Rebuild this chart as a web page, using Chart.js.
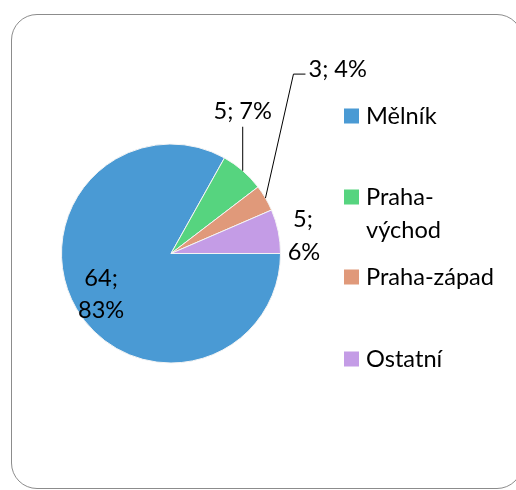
<!DOCTYPE html>
<html>
<head>
<meta charset="utf-8">
<script src="https://cdn.jsdelivr.net/npm/chart.js@4.4.1/dist/chart.umd.min.js"></script>
<style>
  html, body { margin: 0; padding: 0; background: #fff; overflow: hidden; }
  .wrap { position: relative; width: 516px; height: 490px; }
  .frame {
    position: absolute; left: 11px; top: 14px; width: 510px; height: 473px;
    border: 1.5px solid #8c8c8c; border-radius: 26px; pointer-events: none;
  }
</style>
</head>
<body>
<div class="wrap">
  <canvas id="pie" width="516" height="490"></canvas>
  <div class="frame"></div>
</div>
<script>
const labels = ["Mělník", "Praha-východ", "Praha-západ", "Ostatní"];
const legendLines = [["Mělník"], ["Praha-", "východ"], ["Praha-západ"], ["Ostatní"]];
const counts = [64, 5, 3, 5];
const percents = ["83%", "7%", "4%", "6%"];
const sliceColors = ["#4a9ad4", "#56d47f", "#e0997a", "#c49ce6"];

const FONT = "23.6px Lato, 'Open Sans', sans-serif";

// data label text, one entry per slice, split into lines
function labelLines(i) {
  if (i === 0 || i === 3) return [counts[i] + ";", percents[i]];
  return [counts[i] + "; " + percents[i]];
}

const pieLabels = {
  id: "pieLabels",
  afterDatasetsDraw(chart) {
    const ctx = chart.ctx;
    const arcs = chart.getDatasetMeta(0).data;
    ctx.save();
    ctx.font = FONT;
    ctx.fillStyle = "#000";
    ctx.strokeStyle = "#000";
    ctx.lineWidth = 1;
    ctx.textBaseline = "middle";
    arcs.forEach((arc, i) => {
      const { x, y, startAngle, endAngle, outerRadius } = arc.getProps(
        ["x", "y", "startAngle", "endAngle", "outerRadius"], true);
      const mid = (startAngle + endAngle) / 2;
      const ex = x + Math.cos(mid) * outerRadius;
      const ey = y + Math.sin(mid) * outerRadius;
      const lines = labelLines(i);
      if (i === 0) {
        // inside the big slice
        const lx = x + Math.cos(mid) * outerRadius * 0.74;
        const ly = y + Math.sin(mid) * outerRadius * 0.74;
        ctx.textAlign = "center";
        ctx.fillText(lines[0], lx, ly - 16);
        ctx.fillText(lines[1], lx, ly + 16);
      } else if (i === 1) {
        ctx.beginPath();
        ctx.moveTo(ex, ey);
        ctx.lineTo(ex, ey - 44);
        ctx.stroke();
        ctx.textAlign = "center";
        ctx.fillText(lines[0], ex, ey - 59);
      } else if (i === 2) {
        const kx = ex + 28, ky = ey - 124;
        ctx.beginPath();
        ctx.moveTo(ex, ey);
        ctx.lineTo(kx, ky);
        ctx.lineTo(kx + 12, ky);
        ctx.stroke();
        ctx.textAlign = "left";
        ctx.fillText(lines[0], kx + 15, ky - 5);
      } else {
        const lx = x + Math.cos(mid) * outerRadius * 1.24;
        const ly = y + Math.sin(mid) * outerRadius * 1.24;
        ctx.textAlign = "center";
        ctx.fillText(lines[0], lx - 1, ly - 7);
        ctx.fillText(lines[1], lx, ly + 26);
      }
    });
    ctx.restore();
  }
};

// legend on the right, drawn by hand to match wrapped entries
const sideLegend = {
  id: "sideLegend",
  afterDraw(chart) {
    const ctx = chart.ctx;
    const tops = [116, 197, 277, 359];
    ctx.save();
    ctx.font = FONT;
    ctx.textBaseline = "middle";
    ctx.textAlign = "left";
    legendLines.forEach((lines, i) => {
      ctx.fillStyle = chart.data.datasets[0].backgroundColor[i];
      ctx.fillRect(344, tops[i] - 7.5, 15, 15);
      ctx.fillStyle = "#000";
      lines.forEach((t, j) => ctx.fillText(t, 366, tops[i] + j * 33));
    });
    ctx.restore();
  }
};

new Chart(document.getElementById("pie"), {
  type: "pie",
  data: {
    labels: labels,
    datasets: [{
      data: counts,
      backgroundColor: sliceColors,
      borderColor: "#f4f4f4",
      borderWidth: 1,
    }],
  },
  options: {
    responsive: false,
    animation: false,
    rotation: 90,
    layout: { padding: { left: 61, right: 235, top: 143, bottom: 126 } },
    plugins: {
      legend: { display: false },
      tooltip: { enabled: false },
    },
  },
  plugins: [pieLabels, sideLegend],
});
</script>
</body>
</html>
